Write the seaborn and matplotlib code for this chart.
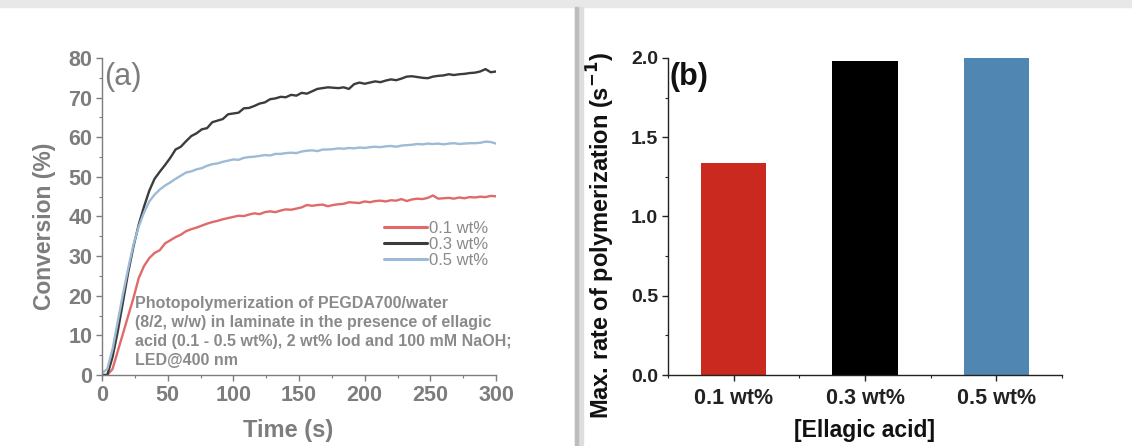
import numpy as np
import pandas as pd
import matplotlib
matplotlib.use("Agg")
import matplotlib.pyplot as plt
from matplotlib.ticker import MultipleLocator, FixedLocator
from matplotlib.patches import Rectangle
import seaborn as sns

# ---- data: conversion kinetics (panel a) ----
time_s = list(range(0, 301, 4))

conv_01 = [0, 0, 1.5, 6, 10.5, 15, 19.5, 24.5, 27.5, 29.5, 30.8, 31.5, 33.2, 34, 34.8, 35.4,
           36.3, 36.8, 37.2, 37.7, 38.2, 38.6, 38.9, 39.3, 39.6, 39.9, 40.2, 40.1, 40.5, 40.8,
           40.6, 41.1, 41.3, 41.1, 41.5, 41.8, 41.7, 42.0, 42.3, 42.9, 42.7, 42.9, 43.0, 42.6,
           42.9, 43.1, 43.2, 43.6, 43.5, 43.4, 43.8, 43.6, 43.9, 44.0, 43.8, 44.1, 44.0, 44.4,
           43.9, 44.3, 44.5, 44.4, 44.7, 45.3, 44.5, 44.6, 44.7, 44.5, 44.8, 44.6, 44.9, 44.8,
           45.0, 44.9, 45.2, 45.1]

conv_03 = [0, 0, 4.5, 11, 18.5, 26, 32.5, 38, 42.5, 46.5, 49.5, 51.3, 53, 54.8, 56.9, 57.6,
           59, 60.3, 61, 62, 62.3, 63.8, 64.2, 64.6, 65.8, 66, 66.2, 67.3, 67.4, 67.9, 68.5,
           68.8, 69.6, 69.8, 70.2, 70.1, 70.7, 70.5, 71.2, 71.0, 71.6, 72.2, 72.4, 72.6, 72.5,
           72.4, 72.6, 72.2, 73.4, 73.8, 73.5, 73.8, 74.1, 73.9, 74.3, 74.6, 74.4, 74.8, 75.3,
           75.4, 75.2, 75.0, 74.9, 75.3, 75.5, 75.6, 75.9, 75.7, 75.9, 76.0, 76.2, 76.3, 76.6,
           77.2, 76.4, 76.6]

conv_05 = [0.5, 1.5, 6.5, 13.5, 20.5, 27, 33, 37.5, 41, 43.8, 45.5, 46.8, 47.8, 48.6, 49.5,
           50.3, 51.1, 51.4, 51.9, 52.2, 52.8, 53.2, 53.4, 53.8, 54.1, 54.4, 54.3, 54.8, 55.0,
           55.1, 55.3, 55.5, 55.4, 55.8, 55.8, 56.0, 56.1, 56.0, 56.4, 56.6, 56.7, 56.5, 56.9,
           56.9, 57.0, 57.2, 57.1, 57.3, 57.2, 57.4, 57.3, 57.5, 57.6, 57.5, 57.7, 57.8, 57.6,
           57.9, 58.0, 58.1, 58.3, 58.2, 58.4, 58.3, 58.4, 58.2, 58.4, 58.5, 58.3, 58.4, 58.5,
           58.5, 58.6, 58.9, 58.8, 58.4]

series_labels = ["0.1 wt%", "0.3 wt%", "0.5 wt%"]

# ---- data: maximum polymerization rate (panel b) ----
bar_categories = ["0.1 wt%", "0.3 wt%", "0.5 wt%"]
max_rate = [1.34, 1.98, 2.00]

# ---- styling ----
line_colors = {"0.1 wt%": "#e06a6a", "0.3 wt%": "#3c3c3c", "0.5 wt%": "#9dbad6"}
bar_colors = ["#c9291f", "#000000", "#4f87b2"]
GRAY = "#7d7d7d"
TXT_GRAY = "#8a8a8a"

sns.set_style("ticks")
plt.rcParams["font.family"] = ["Liberation Sans", "DejaVu Sans"]

fig = plt.figure(figsize=(11.32, 4.46), dpi=100)
W, H = 1132, 446

def ax_rect(x0, x1, ytop, ybot):
    return [x0 / W, (H - ybot) / H, (x1 - x0) / W, (ybot - ytop) / H]

ax1 = fig.add_axes(ax_rect(102, 496, 58, 375))
ax2 = fig.add_axes(ax_rect(668, 1062, 58, 375))

# page decoration: top band and vertical divider
fig.patches.append(Rectangle((0, (H - 7) / H), 1, 7 / H, transform=fig.transFigure,
                             color="#e8e8e8", zorder=0))
fig.patches.append(Rectangle((575 / W, 0), 8 / W, (H - 7) / H, transform=fig.transFigure,
                             color="#dedede", zorder=0))
fig.patches.append(Rectangle((575 / W, 0), 3 / W, (H - 7) / H, transform=fig.transFigure,
                             color="#bdbdbd", zorder=0))

# ---- panel (a) ----
df = pd.DataFrame({
    "Time": time_s * 3,
    "Conversion": conv_01 + conv_03 + conv_05,
    "Sample": sum([[s] * len(time_s) for s in series_labels], []),
})
sns.lineplot(data=df, x="Time", y="Conversion", hue="Sample", palette=line_colors,
             hue_order=series_labels, linewidth=1.7, ax=ax1, legend=True)

ax1.set_xlim(0, 300)
ax1.set_ylim(0, 80)
ax1.xaxis.set_major_locator(MultipleLocator(50))
ax1.xaxis.set_minor_locator(MultipleLocator(25))
ax1.yaxis.set_major_locator(MultipleLocator(10))
ax1.yaxis.set_minor_locator(MultipleLocator(5))
for side in ["top", "right"]:
    ax1.spines[side].set_visible(False)
for side in ["left", "bottom"]:
    ax1.spines[side].set_color(GRAY)
    ax1.spines[side].set_linewidth(1.0)
ax1.tick_params(which="major", direction="out", length=4, width=1, colors=GRAY,
                labelsize=15.5, pad=3)
ax1.tick_params(which="minor", direction="out", length=2.5, width=0.8, colors=GRAY)
for lab in ax1.get_xticklabels() + ax1.get_yticklabels():
    lab.set_fontweight("bold")
    lab.set_color(GRAY)
ax1.set_xlabel("Time (s)", fontsize=17, fontweight="bold", color=GRAY)
ax1.set_ylabel("Conversion (%)", fontsize=16.5, fontweight="bold", color=GRAY)
ax1.xaxis.set_label_coords(0.472, -0.14)
ax1.yaxis.set_label_coords(-0.118, 0.47)

leg = ax1.legend(loc="upper left", bbox_to_anchor=(0.715, 0.485), frameon=False,
                 fontsize=12, handlelength=2.6, handletextpad=0.1, labelspacing=0.05,
                 borderpad=0, borderaxespad=0)
for t in leg.get_texts():
    t.set_color(TXT_GRAY)
for h in leg.get_lines():
    h.set_linewidth(2.2)

ax1.text(0.005, 0.94, "(a)", transform=ax1.transAxes, fontsize=22, color=GRAY,
         ha="left", va="center")
ax1.text(0.083, 0.25,
         "Photopolymerization of PEGDA700/water\n"
         "(8/2, w/w) in laminate in the presence of ellagic\n"
         "acid (0.1 - 0.5 wt%), 2 wt% Iod and 100 mM NaOH;\n"
         "LED@400 nm",
         transform=ax1.transAxes, fontsize=11.5, fontweight="bold", color=TXT_GRAY,
         ha="left", va="top", linespacing=1.33, clip_on=False)

# ---- panel (b) ----
sns.barplot(x=bar_categories, y=max_rate, hue=bar_categories, palette=bar_colors,
            width=0.5, legend=False, ax=ax2, saturation=1, edgecolor="none")
ax2.set_xlim(-0.5, 2.5)
ax2.set_ylim(0, 2.0)
ax2.yaxis.set_major_locator(MultipleLocator(0.5))
ax2.yaxis.set_minor_locator(MultipleLocator(0.25))
ax2.xaxis.set_minor_locator(FixedLocator([-0.5, 0.5, 1.5, 2.5]))
for side in ["top", "right"]:
    ax2.spines[side].set_visible(False)
for side in ["left", "bottom"]:
    ax2.spines[side].set_color("#222222")
    ax2.spines[side].set_linewidth(1.0)
ax2.tick_params(which="major", direction="out", length=4, width=1, colors="#222222",
                labelsize=14, pad=3)
ax2.tick_params(which="minor", direction="out", length=2.5, width=0.8, colors="#222222")
ax2.tick_params(axis="x", labelsize=15.5, pad=5)
for lab in ax2.get_xticklabels() + ax2.get_yticklabels():
    lab.set_fontweight("bold")
ax2.set_xlabel("[Ellagic acid]", fontsize=16.5, fontweight="bold", color="#111111")
ax2.set_ylabel("Max. rate of polymerization (s$^{\\mathbf{-1}}$)", fontsize=17,
               fontweight="bold", color="#111111")
ax2.xaxis.set_label_coords(0.5, -0.14)
ax2.yaxis.set_label_coords(-0.13, 0.44)
ax2.text(0.005, 0.94, "(b)", transform=ax2.transAxes, fontsize=22, fontweight="bold",
         color="#111111", ha="left", va="center")

fig.savefig("out.png", dpi=100)
